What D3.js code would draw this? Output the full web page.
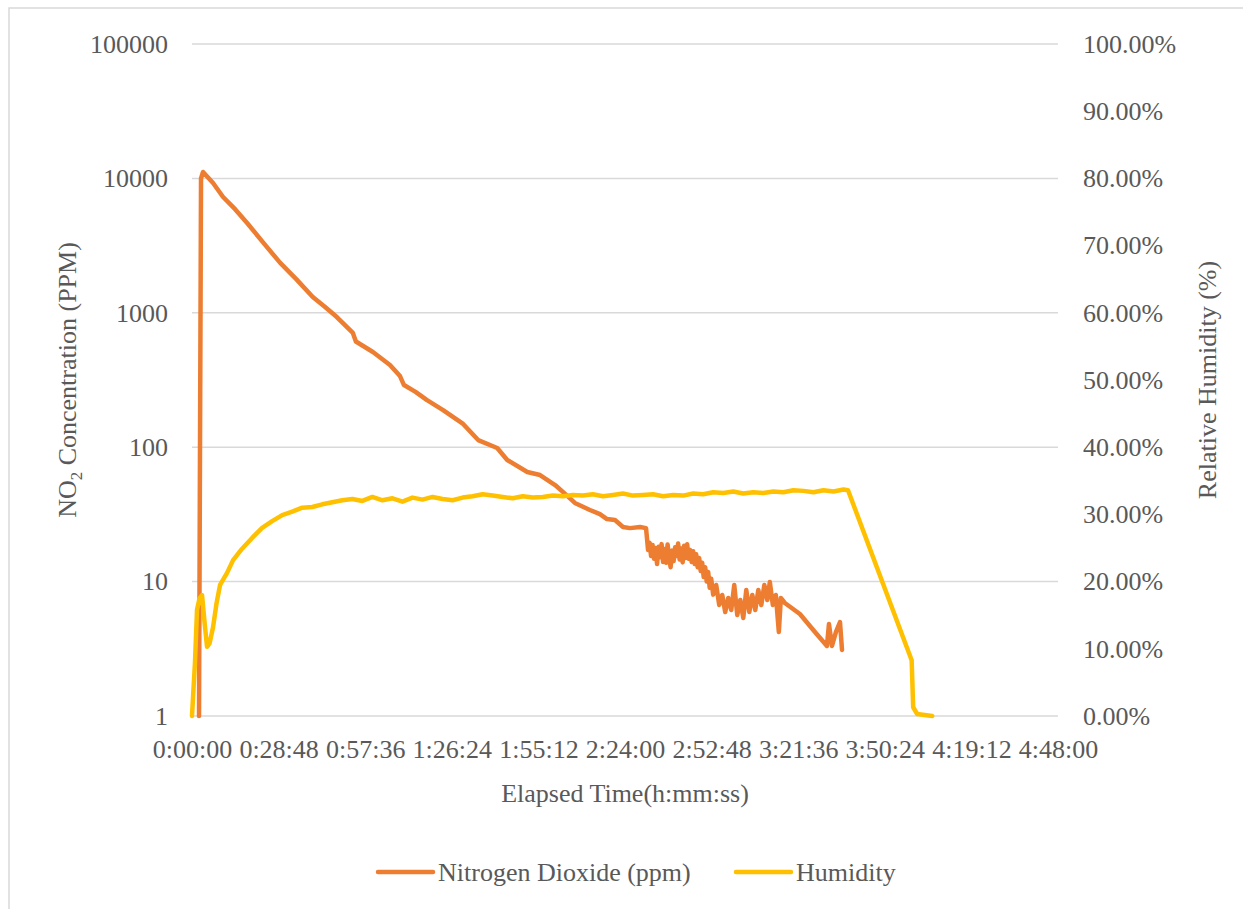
<!DOCTYPE html>
<html>
<head>
<meta charset="utf-8">
<script src="https://cdn.jsdelivr.net/npm/d3@7"></script>
<style>
body { margin: 0; background: #fff; }
text { font-family: "Liberation Serif", "Times New Roman", serif; fill: #595959; }
</style>
</head>
<body>
<script>
let width = 1243;
let height = 909;

// elapsed time in seconds
let no2Time = [140, 180, 220, 420, 620, 860, 1100, 1430, 1760, 2080, 2410, 2650, 2890, 3210, 3270, 3610, 3950, 4150, 4230,
	4460, 4690, 5010, 5410, 5710, 6090, 6290, 6690, 6945, 7245, 7445, 7640, 7940, 8140, 8280, 8440,
	8600, 8740, 8940, 9060,
	9100, 9130, 9160, 9190, 9220, 9250, 9280, 9310, 9340, 9370, 9400, 9430, 9460, 9490, 9520,
	9550, 9580, 9610, 9640, 9670, 9700, 9730, 9760, 9790, 9820, 9850, 9880, 9910, 9940, 9970,
	10000, 10030, 10060, 10090, 10120, 10150, 10180, 10210, 10240, 10270, 10300, 10330, 10360, 10400,
	10460, 10520, 10580, 10640, 10700, 10760, 10820, 10880,
	10940, 11000, 11060, 11120, 11180, 11240, 11300, 11360, 11420, 11480, 11530, 11590, 11650, 11710, 11750,
	11830, 12130, 12430, 12670, 12710, 12770, 12850, 12930, 12970];
let no2Value = [1, 10000, 11160, 9240, 7270, 5900, 4660, 3300, 2350, 1780, 1312, 1110, 930, 708, 612, 511, 409, 338, 290,
	258, 224, 189, 149, 113, 98.6, 80.3, 65.4, 62.1, 52.3, 44.9, 38.5, 34.1, 31.8, 29.2, 28.7,
	25.5, 25.0, 25.5, 25.0,
	17.2, 19.5, 15.5, 18.7, 14.8, 17.8, 13.5, 18.2, 15.2, 19.0, 14.0, 17.5, 13.8, 18.9, 15.0,
	12.8, 17.0, 14.2, 18.0, 15.5, 19.2, 14.6, 17.6, 13.9, 18.5, 15.0, 19.0, 14.8, 17.2, 14.0,
	16.8, 13.5, 16.0, 12.8, 15.0, 12.0, 13.8, 10.8, 12.8, 10.0, 11.8, 9.0, 10.5, 8.0,
	9.44, 6.70, 7.95, 5.94, 7.55, 6.15, 9.44, 5.64,
	7.3, 5.36, 8.66, 5.94, 7.95, 6.15, 8.66, 6.7, 9.44, 7.3, 9.93, 6.7, 7.95, 4.22, 7.55,
	6.93, 5.74, 4.22, 3.32, 4.84, 3.32, 4.22, 5.0, 3.1];

let humTime = [0, 60, 100, 150, 200, 250, 300, 350, 420, 490, 560, 700, 820, 1000, 1200,
	1400, 1600, 1800, 2000, 2200, 2400, 2600, 2800, 3000, 3200,
	3400, 3600, 3800, 4000, 4200, 4400, 4600, 4800, 5000, 5200,
	5400, 5600, 5800, 6000, 6200, 6400, 6600, 6800, 7000, 7200,
	7400, 7600, 7800, 8000, 8200, 8400, 8600, 8800, 9000, 9200,
	9400, 9600, 9800, 10000, 10200, 10400, 10600, 10800, 11000, 11200,
	11400, 11600, 11800, 12000, 12200, 12400, 12600, 12800, 13000,
	13090, 14360, 14390, 14470, 14770];
// percent
let humValue = [0, 8, 15.8, 17.5, 18.0, 14, 10.3, 10.8, 13.2, 16.8, 19.5, 21.3, 23.2, 24.9, 26.5,
	28.0, 29.0, 29.9, 30.4, 31.0, 31.1, 31.5, 31.8, 32.1, 32.3,
	32.0, 32.6, 32.1, 32.4, 31.9, 32.5, 32.2, 32.6, 32.3, 32.1,
	32.5, 32.7, 33.0, 32.8, 32.6, 32.4, 32.7, 32.5, 32.6, 32.8,
	32.7, 32.9, 32.8, 33.0, 32.7, 32.9, 33.1, 32.8, 32.9, 33.0,
	32.7, 32.9, 32.8, 33.1, 33.0, 33.3, 33.2, 33.4, 33.1, 33.3,
	33.2, 33.4, 33.3, 33.6, 33.5, 33.3, 33.6, 33.4, 33.7,
	33.6, 8.3, 1.3, 0.3, 0];

let leftTicks = [1, 10, 100, 1000, 10000, 100000];
let rightTicks = [0, 0.1, 0.2, 0.3, 0.4, 0.5, 0.6, 0.7, 0.8, 0.9, 1.0];
let timeTicks = d3.range(0, 17281, 1728);

let seriesNames = ['Nitrogen Dioxide (ppm)', 'Humidity'];
let colors = ['#ED7D31', '#FFC000'];

let svg = d3.select('body').append('svg')
	.attr('width', width)
	.attr('height', height);

// chart border
svg.append('rect')
	.attr('x', 9)
	.attr('y', 8)
	.attr('width', width)
	.attr('height', height)
	.style('fill', 'none')
	.style('stroke', '#d9d9d9')
	.style('stroke-width', 1.5);

let x = d3.scaleLinear().domain([0, 17280]).range([192, 1058]);
let yL = d3.scaleLog().domain([1, 100000]).range([716, 44]);
let yR = d3.scaleLinear().domain([0, 1]).range([716, 44]);

function hms(s) {
	let h = Math.floor(s / 3600);
	let m = Math.floor((s % 3600) / 60);
	let sec = Math.round(s % 60);
	return h + ':' + String(m).padStart(2, '0') + ':' + String(sec).padStart(2, '0');
}

// gridlines
svg.append('g').selectAll('line')
	.data(leftTicks)
	.enter().append('line')
	.attr('x1', x.range()[0])
	.attr('x2', x.range()[1])
	.attr('y1', d => yL(d))
	.attr('y2', d => yL(d))
	.style('stroke', '#d9d9d9')
	.style('stroke-width', 1.5);

function styleAxis(g) {
	g.select('.domain').remove();
	g.selectAll('text')
		.style('font-family', '"Liberation Serif", "Times New Roman", serif')
		.style('font-size', '26px')
		.style('fill', '#595959');
}

svg.append('g')
	.attr('transform', 'translate(192,0)')
	.call(d3.axisLeft(yL).tickValues(leftTicks).tickFormat(d3.format('d')).tickSize(0).tickPadding(24))
	.call(styleAxis);

svg.append('g')
	.attr('transform', 'translate(1058,0)')
	.call(d3.axisRight(yR).tickValues(rightTicks).tickFormat(d3.format('.2%')).tickSize(0).tickPadding(25))
	.call(styleAxis);

svg.append('g')
	.attr('transform', 'translate(0,716)')
	.call(d3.axisBottom(x).tickValues(timeTicks).tickFormat(hms).tickSize(0).tickPadding(24))
	.call(styleAxis);

// axis titles
svg.append('text')
	.attr('x', 625)
	.attr('y', 802)
	.attr('text-anchor', 'middle')
	.style('font-size', '26px')
	.text('Elapsed Time(h:mm:ss)');

let leftTitle = svg.append('text')
	.attr('transform', 'translate(76,380) rotate(-90)')
	.attr('text-anchor', 'middle')
	.style('font-size', '26px');
leftTitle.append('tspan').text('NO');
leftTitle.append('tspan').attr('dy', 6).style('font-size', '17px').text('2');
leftTitle.append('tspan').attr('dy', -6).text(' Concentration (PPM)');

svg.append('text')
	.attr('transform', 'translate(1216,380) rotate(-90)')
	.attr('text-anchor', 'middle')
	.style('font-size', '26px')
	.text('Relative Humidity (%)');

// series
let no2Line = d3.line()
	.x(d => x(d[0]))
	.y(d => yL(d[1]));

let humLine = d3.line()
	.x(d => x(d[0]))
	.y(d => yR(d[1] / 100));

svg.append('path')
	.datum(d3.zip(no2Time, no2Value))
	.attr('d', no2Line)
	.style('fill', 'none')
	.style('stroke', colors[0])
	.style('stroke-width', 4.5)
	.style('stroke-linejoin', 'round')
	.style('stroke-linecap', 'round');

svg.append('path')
	.datum(d3.zip(humTime, humValue))
	.attr('d', humLine)
	.style('fill', 'none')
	.style('stroke', colors[1])
	.style('stroke-width', 4.5)
	.style('stroke-linejoin', 'round')
	.style('stroke-linecap', 'round');

// legend
let legendX = [378, 736];
for (let i = 0; i < seriesNames.length; i++) {
	svg.append('line')
		.attr('x1', legendX[i])
		.attr('x2', legendX[i] + 55)
		.attr('y1', 872)
		.attr('y2', 872)
		.style('stroke', colors[i])
		.style('stroke-width', 4.5)
		.style('stroke-linecap', 'round');
	svg.append('text')
		.attr('x', legendX[i] + 60)
		.attr('y', 881)
		.style('font-size', '26px')
		.text(seriesNames[i]);
}
</script>
</body>
</html>
